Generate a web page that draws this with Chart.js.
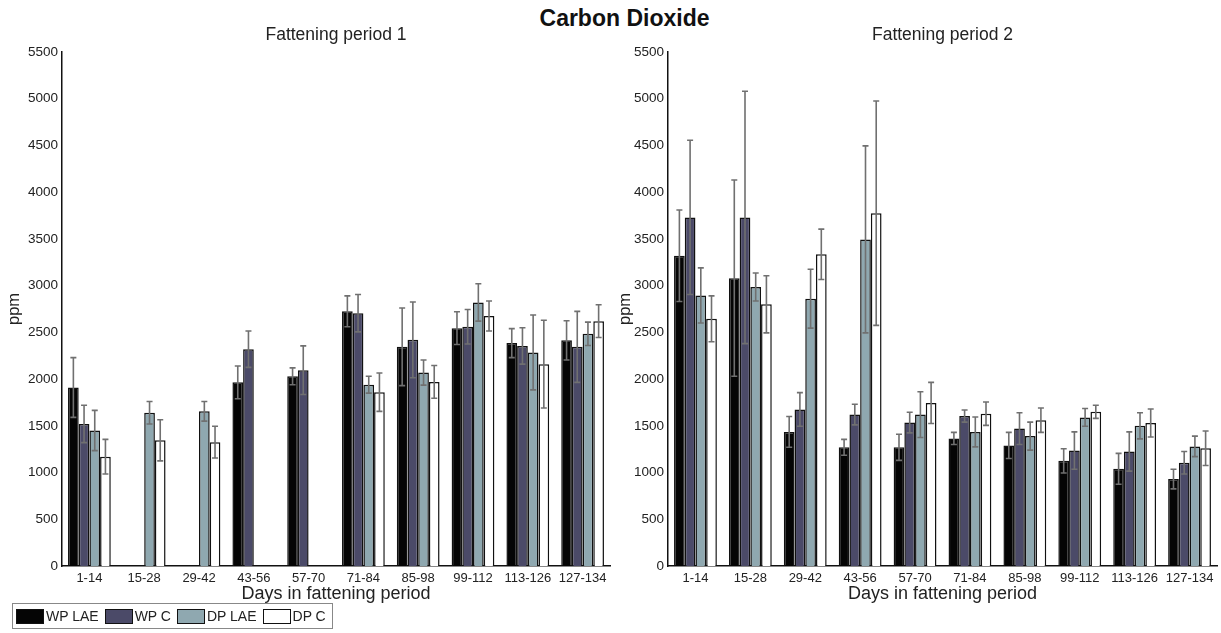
<!DOCTYPE html>
<html>
<head>
<meta charset="utf-8">
<script src="https://cdn.jsdelivr.net/npm/chart.js@4"></script>
<style>
  body { margin:0; background:#fff; font-family:'Liberation Sans', Arial, sans-serif; }
  #wrap { position:relative; width:1221px; height:633px; overflow:hidden; }
  #main-title { position:absolute; left:14px; width:1221px; top:5px; text-align:center;
                font-size:23px; font-weight:bold; color:#111; }
  .panel { position:absolute; top:0; }
  #legend { position:absolute; left:12px; top:603px; width:321px; height:26px;
            border:1px solid #888; box-sizing:border-box; display:flex; align-items:center;
            font-size:14px; color:#222; padding-left:3px; }
  .lg-item { display:flex; align-items:center; margin-right:6px; }
  .lg-sw { width:28px; height:15px; border:1.5px solid #111; box-sizing:border-box; margin-right:2px; }
</style>
</head>
<body>
<div id="wrap">
  <div id="main-title">Carbon Dioxide</div>
  <div class="panel" style="left:0"><canvas id="chart1" width="612" height="633"></canvas></div>
  <div class="panel" style="left:612px"><canvas id="chart2" width="609" height="633"></canvas></div>
  <div id="legend"></div>
</div>
<script>
// ------------------------------------------------------------
// DATA
// ------------------------------------------------------------
const categories = ['1-14','15-28','29-42','43-56','57-70','71-84','85-98','99-112','113-126','127-134'];
const seriesNames = ['WP LAE','WP C','DP LAE','DP C'];
const yTicks = { min: 0, max: 5500, step: 500 };

// fattening period 1
const wpLae1    = [1910, null, null, 1965, 2030, 2725, 2345, 2545, 2385, 2415];
const wpC1      = [1520, null, null, 2320, 2095, 2705, 2420, 2560, 2355, 2345];
const dpLae1    = [1450, 1640, 1655, null, null, 1940, 2070, 2820, 2285, 2485];
const dpC1      = [1170, 1345, 1325, null, null, 1860, 1970, 2675, 2160, 2620];
const wpLae1Err = [ 320, null, null,  175,   90,  165,  415,  175,  155,  210];
const wpC1Err   = [ 200, null, null,  195,  260,  200,  405,  185,  195,  380];
const dpLae1Err = [ 215,  120,  105, null, null,   90,  135,  200,  400,  125];
const dpC1Err   = [ 185,  220,  170, null, null,  205,  175,  160,  470,  175];

// fattening period 2
const wpLae2    = [3320, 3080, 1435, 1270, 1270, 1365, 1290, 1125, 1040,  930];
const wpC2      = [3730, 3730, 1675, 1620, 1535, 1605, 1470, 1235, 1225, 1105];
const dpLae2    = [2895, 2985, 2860, 3495, 1620, 1435, 1390, 1590, 1500, 1280];
const dpC2      = [2645, 2800, 3335, 3775, 1745, 1630, 1560, 1650, 1530, 1260];
const wpLae2Err = [ 490, 1050,  165,   85,  140,   65,  140,  130,  165,  105];
const wpC2Err   = [ 825, 1350,  180,  110,  110,   65,  170,  200,  210,  120];
const dpLae2Err = [ 295,  150,  315, 1000,  245,  160,  150,   95,  140,  110];
const dpC2Err   = [ 245,  305,  270, 1200,  220,  125,  130,   70,  150,  185];

// ------------------------------------------------------------
// STYLE
// ------------------------------------------------------------
const barColors = ['#050505', '#4b4a68', '#8fa8b0', '#ffffff'];
const FONT = "'Liberation Sans', Arial, sans-serif";

// error bars drawn on top of the bars, through the chart's own y scale
const errorBarPlugin = {
    id: 'errorBars',
    afterDatasetsDraw(chart) {
        const ctx = chart.ctx;
        const y = chart.scales.y;
        ctx.save();
        ctx.strokeStyle = '#707070';
        ctx.lineWidth = 1.6;
        chart.data.datasets.forEach((ds, di) => {
            const meta = chart.getDatasetMeta(di);
            meta.data.forEach((bar, i) => {
                const v = ds.data[i], e = ds.errors[i];
                if (v == null || e == null) return;
                const top = y.getPixelForValue(v + e);
                const bot = y.getPixelForValue(v - e);
                const cap = 3;
                ctx.beginPath();
                ctx.moveTo(bar.x, top);       ctx.lineTo(bar.x, bot);
                ctx.moveTo(bar.x - cap, top); ctx.lineTo(bar.x + cap, top);
                ctx.moveTo(bar.x - cap, bot); ctx.lineTo(bar.x + cap, bot);
                ctx.stroke();
            });
        });
        ctx.restore();
    }
};

function makePanel(canvasId, title, values, errors, yWidth, padRight, ppmPad) {
    const datasets = values.map((vals, k) => ({
        label: seriesNames[k],
        data: vals,
        errors: errors[k],
        backgroundColor: barColors[k],
        borderColor: '#111',
        borderWidth: 1.5,
        borderSkipped: 'bottom',
        categoryPercentage: 0.78,
        barPercentage: 1.0
    }));

    return new Chart(document.getElementById(canvasId), {
        type: 'bar',
        data: { labels: categories, datasets },
        plugins: [errorBarPlugin],
        options: {
            responsive: false,
            animation: false,
            layout: { padding: { left: 0, right: padRight, top: 0, bottom: 0 } },
            plugins: {
                legend: { display: false },
                tooltip: { enabled: false },
                title: {
                    display: true,
                    fullSize: false,
                    text: title,
                    color: '#222',
                    font: { family: FONT, size: 17.5, weight: 'normal' },
                    padding: { top: 24.5, bottom: 6.5 }
                }
            },
            scales: {
                x: {
                    grid: { display: false, drawTicks: false },
                    border: { display: true, color: '#111', width: 1.5 },
                    ticks: { color: '#222', font: { family: FONT, size: 13 }, padding: 5,
                             maxRotation: 0, autoSkip: false },
                    title: { display: true, text: 'Days in fattening period', color: '#222',
                             font: { family: FONT, size: 18 }, padding: { top: 0, bottom: 28 } },
                    afterFit: s => { s.height = 67; }
                },
                y: {
                    min: yTicks.min, max: yTicks.max,
                    grid: { display: false, drawTicks: false },
                    border: { display: true, color: '#111', width: 1.5 },
                    ticks: { stepSize: yTicks.step, color: '#222', padding: 4,
                             font: { family: FONT, size: 13.5 },
                             callback: v => String(v) },
                    title: { display: true, text: 'ppm', color: '#222',
                             font: { family: FONT, size: 16.5 }, padding: { top: ppmPad, bottom: 0 } },
                    afterFit: s => { s.width = yWidth; }
                }
            }
        }
    });
}

makePanel('chart1', 'Fattening period 1',
    [wpLae1, wpC1, dpLae1, dpC1], [wpLae1Err, wpC1Err, dpLae1Err, dpC1Err], 62, 2, 5);
makePanel('chart2', 'Fattening period 2',
    [wpLae2, wpC2, dpLae2, dpC2], [wpLae2Err, wpC2Err, dpLae2Err, dpC2Err], 56, 4, 4);

// legend box
document.getElementById('legend').innerHTML = seriesNames.map((name, k) =>
    `<div class="lg-item"><div class="lg-sw" style="background:${barColors[k]}"></div><span>${name}</span></div>`
).join('');
</script>
</body>
</html>
